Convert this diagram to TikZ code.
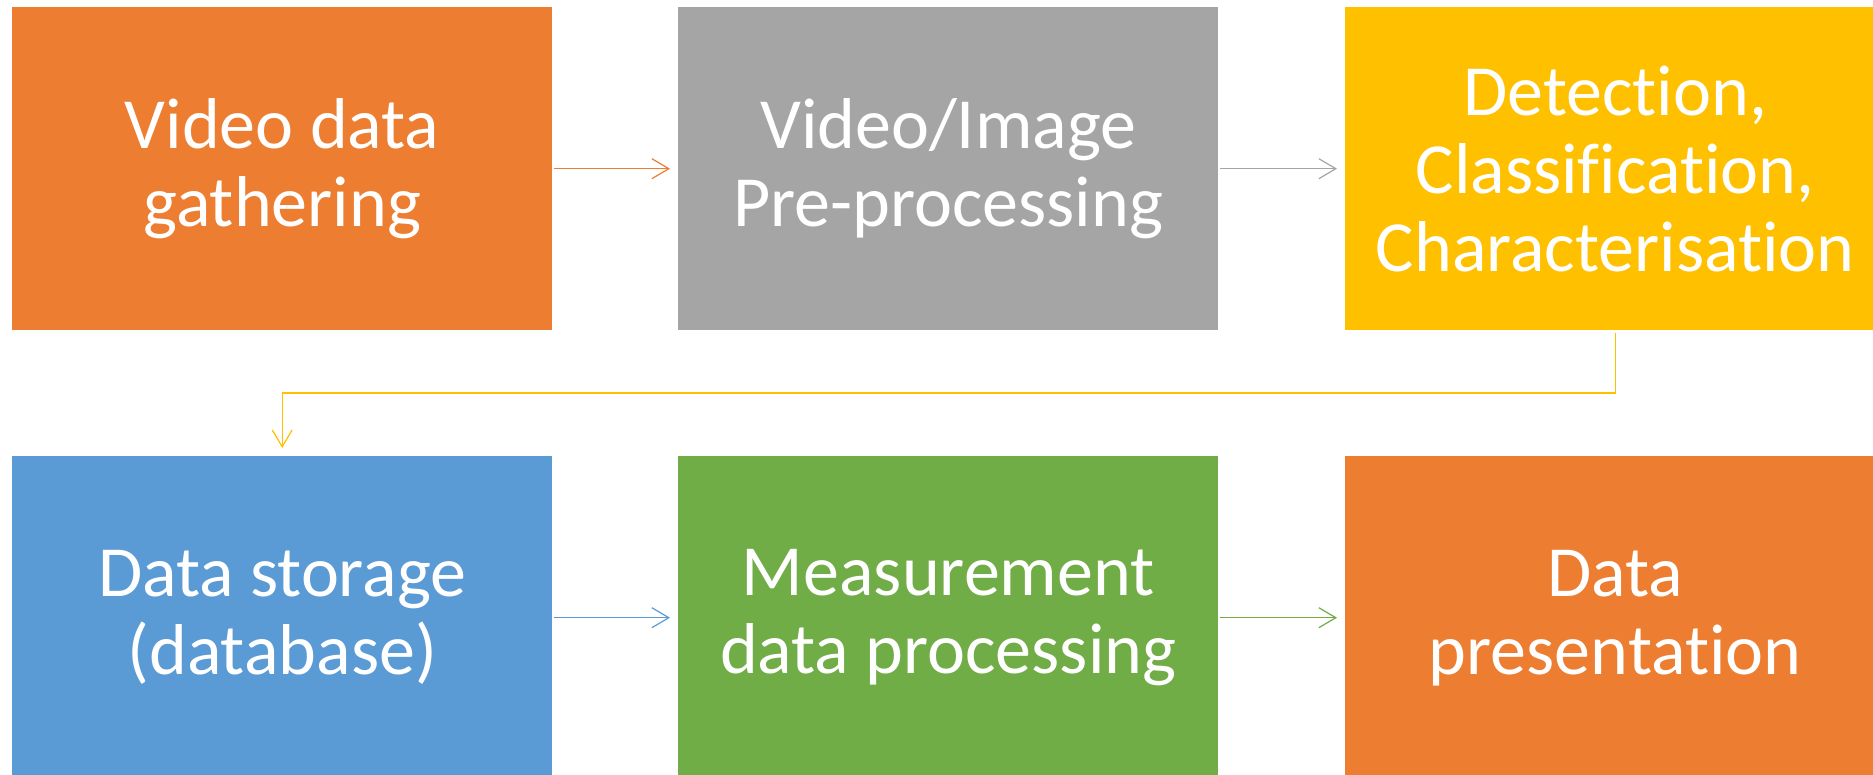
\documentclass[tikz,border=0pt]{standalone}
\usepackage{fontspec}
\setmainfont{Carlito}[RawFeature=-liga]
\usetikzlibrary{arrows.meta}
\definecolor{cOrange}{HTML}{ED7D31}
\definecolor{cGray}{HTML}{A5A5A5}
\definecolor{cYellow}{HTML}{FFC000}
\definecolor{cBlue}{HTML}{5B9BD5}
\definecolor{cGreen}{HTML}{70AD47}
\begin{document}
\begin{tikzpicture}[x=1pt,y=-1pt,
  stage/.style={minimum width=540pt, minimum height=323pt, inner sep=0pt,
    text=white, align=center, font=\fontsize{72}{78}\selectfont, anchor=north west},
  link/.style={line width=1.2pt,
    -{Straight Barb[length=17pt,width=20pt,line width=1.2pt]}}]
\useasboundingbox (0,0) rectangle (1873,774);
\fill[white] (0,0) rectangle (1873,774);

% first row
\node[stage, fill=cOrange] (gather) at (12,7) {Video data\\gathering};
\node[stage, fill=cGray]   (pre)    at (678,7) {Video/Image\\Pre-processing};
\node[stage, fill=cYellow] (det)    at (1345,7) {Detection,\\Classification,\\Characterisation};

% second row
\node[stage, fill=cBlue]   (store)  at (12,456) {Data storage\\(database)};
\node[stage, fill=cGreen]  (meas)   at (678,456) {Measurement\\data processing};
\node[stage, fill=cOrange] (pres)   at (1345,456) {Data\\presentation};

% connectors
\draw[link, cOrange] ([xshift=2pt]gather.east) -- ([xshift=-8pt]pre.west);
\draw[link, cGray]   ([xshift=2pt]pre.east) -- ([xshift=-8pt]det.west);
\coordinate (bend) at (0,393);
\draw[link, cYellow] ([yshift=-3pt]det.south) -- (det.south |- bend)
  -- (store.north |- bend) -- ([yshift=8pt]store.north);
\draw[link, cBlue]   ([xshift=2pt]store.east) -- ([xshift=-8pt]meas.west);
\draw[link, cGreen]  ([xshift=2pt]meas.east) -- ([xshift=-8pt]pres.west);
\end{tikzpicture}
\end{document}
